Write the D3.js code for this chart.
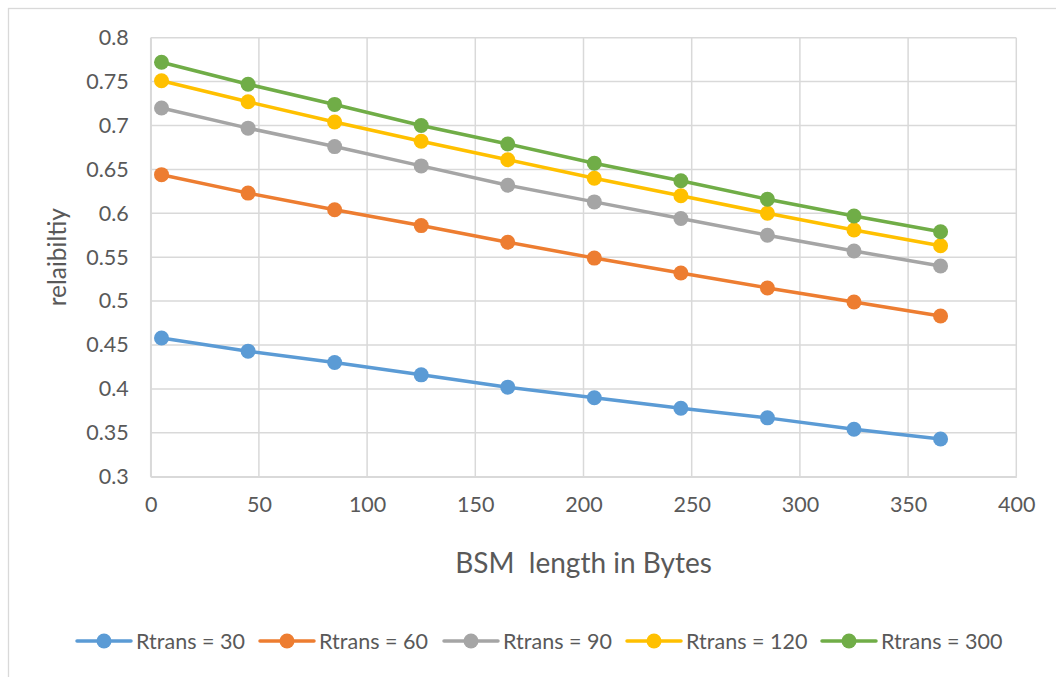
<!DOCTYPE html>
<html>
<head>
<meta charset="utf-8">
<script src="https://cdn.jsdelivr.net/npm/d3@7"></script>
<style>
  html, body { margin: 0; padding: 0; background: #fff; }
  svg { display: block; }
  text { font-family: Lato, "Open Sans", sans-serif; fill: #595959; }
</style>
</head>
<body>
<svg id="chart" width="1056" height="677"></svg>
<script>
const xValues = [5, 45, 85, 125, 165, 205, 245, 285, 325, 365];
const seriesNames = ["Rtrans = 30", "Rtrans = 60", "Rtrans = 90", "Rtrans = 120", "Rtrans = 300"];
const rtrans30  = [0.458, 0.443, 0.430, 0.416, 0.402, 0.390, 0.378, 0.367, 0.354, 0.343];
const rtrans60  = [0.644, 0.623, 0.604, 0.586, 0.567, 0.549, 0.532, 0.515, 0.499, 0.483];
const rtrans90  = [0.720, 0.697, 0.676, 0.654, 0.632, 0.613, 0.594, 0.575, 0.557, 0.540];
const rtrans120 = [0.751, 0.727, 0.704, 0.682, 0.661, 0.640, 0.620, 0.600, 0.581, 0.563];
const rtrans300 = [0.772, 0.747, 0.724, 0.700, 0.679, 0.657, 0.637, 0.616, 0.597, 0.579];
const colors = ["#5b9bd5", "#ed7d31", "#a5a5a5", "#ffc000", "#70ad47"];
const xTicks = [0, 50, 100, 150, 200, 250, 300, 350, 400];
const yTicks = [0.3, 0.35, 0.4, 0.45, 0.5, 0.55, 0.6, 0.65, 0.7, 0.75, 0.8];
const xTitle = "BSM  length in Bytes";
const yTitle = "relaibiltiy";

const allSeries = [rtrans30, rtrans60, rtrans90, rtrans120, rtrans300];

const svg = d3.select("#chart");
// chart area border (only top/left visible)
svg.append("rect").attr("x", 8.5).attr("y", 8.5).attr("width", 1070).attr("height", 700)
  .attr("fill", "#fff").attr("stroke", "#d9d9d9").attr("stroke-width", 1.3);

const pLeft = 150.7, pRight = 1016.3, pTop = 37.7, pBottom = 476.7;
const x = d3.scaleLinear().domain([0, 400]).range([pLeft, pRight]);
const y = d3.scaleLinear().domain([0.3, 0.8]).range([pBottom, pTop]);

// gridlines
const g = svg.append("g");
g.selectAll("line.h").data(yTicks).enter().append("line")
  .attr("x1", pLeft).attr("x2", pRight)
  .attr("y1", d => y(d)).attr("y2", d => y(d))
  .attr("stroke", "#d9d9d9").attr("stroke-width", 1.5);
g.selectAll("line.v").data(xTicks).enter().append("line")
  .attr("y1", pTop).attr("y2", pBottom)
  .attr("x1", d => x(d)).attr("x2", d => x(d))
  .attr("stroke", "#d9d9d9").attr("stroke-width", 1.5);

// axes labels
const yAxis = d3.axisLeft(y).tickValues(yTicks).tickFormat(d => String(+d.toFixed(2))).tickSize(0).tickPadding(22);
const ya = svg.append("g").attr("transform", `translate(${pLeft},0)`).call(yAxis);
ya.select(".domain").attr("stroke", "#d9d9d9").attr("stroke-width", 1.5);
ya.selectAll("text").style("font-size", "21.5px").style("fill", "#595959").style("font-family", "Lato, sans-serif");

const xAxis = d3.axisBottom(x).tickValues(xTicks).tickFormat(d3.format("d")).tickSize(0).tickPadding(20);
const xa = svg.append("g").attr("transform", `translate(0,${pBottom})`).call(xAxis);
xa.select(".domain").attr("stroke", "#d9d9d9").attr("stroke-width", 1.5);
xa.selectAll("text").style("font-size", "21.5px").style("fill", "#595959").style("font-family", "Lato, sans-serif");

// series
const line = d3.line().x((d, i) => x(xValues[i])).y(d => y(d));
allSeries.forEach((s, k) => {
  svg.append("path").datum(s).attr("d", line)
    .attr("fill", "none").attr("stroke", colors[k]).attr("stroke-width", 3.5).attr("stroke-linejoin", "round");
  svg.selectAll(null).data(s).enter().append("circle")
    .attr("cx", (d, i) => x(xValues[i])).attr("cy", d => y(d)).attr("r", 7.5)
    .attr("fill", colors[k]);
});

// titles
svg.append("text").attr("x", (pLeft + pRight) / 2).attr("y", 573)
  .attr("text-anchor", "middle").style("font-size", "28px").style("white-space", "pre").text(xTitle);
svg.append("text").attr("transform", `translate(66,${(pTop + pBottom) / 2}) rotate(-90)`)
  .attr("text-anchor", "middle").style("font-size", "24.5px").text(yTitle);

// legend
const legendX = [77, 260, 444, 627, 822];
const ly = 641;
seriesNames.forEach((name, k) => {
  const lg = svg.append("g").attr("transform", `translate(${legendX[k]},${ly})`);
  lg.append("line").attr("x1", 0).attr("x2", 54).attr("y1", 0).attr("y2", 0)
    .attr("stroke", colors[k]).attr("stroke-width", 3.5).attr("stroke-linecap", "round");
  lg.append("circle").attr("cx", 27).attr("cy", 0).attr("r", 7.5).attr("fill", colors[k]);
  lg.append("text").attr("x", 59).attr("y", 8).style("font-size", "21.5px").text(name);
});
</script>
</body>
</html>
